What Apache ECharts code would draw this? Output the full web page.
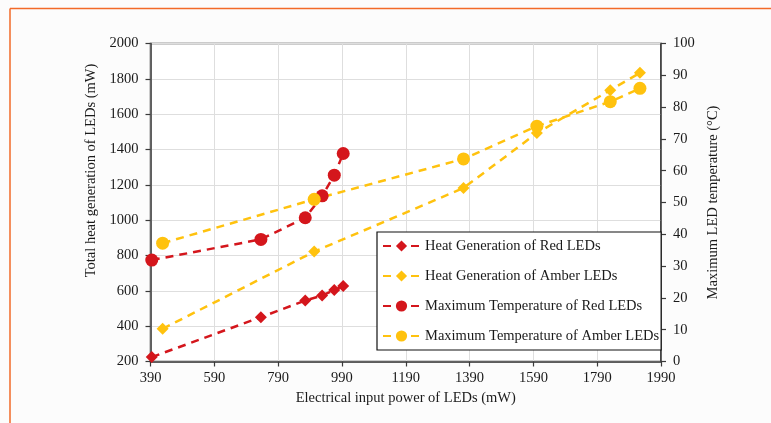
<!DOCTYPE html>
<html><head><meta charset="utf-8">
<script src="https://cdn.jsdelivr.net/npm/echarts@6/dist/echarts.min.js"></script>
<style>html,body{margin:0;padding:0;background:#fcfcfc}#c{width:771px;height:423px}</style>
</head><body><div id="c"></div>
<script>
const redPower = [394, 736, 875, 928, 966, 994];
const redHeat = [225, 451, 545, 573, 605, 628];
const redTemp = [31.9, 38.4, 45.2, 52.1, 58.6, 65.4];
const amberPower = [428, 903, 1371, 1601, 1831, 1924];
const amberHeat = [385, 822, 1182, 1493, 1736, 1834];
const amberTemp = [37.2, 51.0, 63.7, 74.0, 81.7, 85.9];
const seriesNames = ['Heat Generation of Red LEDs', 'Heat Generation of Amber LEDs',
  'Maximum Temperature of Red LEDs', 'Maximum Temperature of Amber LEDs'];
const xAxisName = 'Electrical input power of LEDs (mW)';
const yLeftName = 'Total heat generation of LEDs (mW)';
const yRightName = 'Maximum LED temperature (°C)';

const RED = '#d4161c', AMBER = '#ffc20e';
const FONT = "'Liberation Serif', 'Times New Roman', serif";
const TXT = '#1a1a1a';
const AX = '#3a3a3a';
const FS = 14.5;
const plain = v => String(v);

const pairs = (xs, ys) => xs.map((x, i) => [x, ys[i]]);
function mk(name, xs, ys, color, symbol, size, yIdx) {
  return {
    name, type: 'line', yAxisIndex: yIdx, data: pairs(xs, ys),
    symbol, symbolSize: size, showSymbol: true,
    lineStyle: { color, width: 2.5, type: [8, 6] },
    itemStyle: { color, borderWidth: 0 },
    emphasis: { disabled: true }, animation: false
  };
}

const chart = echarts.init(document.getElementById('c'), null, { renderer: 'canvas' });
chart.setOption({
  backgroundColor: '#fcfcfc',
  animation: false,
  textStyle: { fontFamily: FONT },
  grid: { left: 150.5, right: 110, top: 43.5, bottom: 61.5, show: true,
    backgroundColor: '#ffffff', borderColor: AX, borderWidth: 1.5 },
  legend: {
    orient: 'vertical', left: 377, top: 232,
    itemWidth: 37, itemHeight: 14, itemGap: 14,
    padding: [6, 2, 6, 5],
    backgroundColor: '#ffffff', borderColor: '#111', borderWidth: 1.2, borderRadius: 0,
    textStyle: { fontFamily: FONT, fontSize: FS, color: TXT, lineHeight: 16 },
    data: seriesNames
  },
  xAxis: {
    type: 'value', min: 390, max: 1990, interval: 200,
    name: xAxisName, nameLocation: 'middle', nameGap: 28,
    nameTextStyle: { fontFamily: FONT, fontSize: FS, color: TXT },
    axisLine: { show: true, lineStyle: { color: AX, width: 1.5 } },
    axisTick: { show: true, length: 5, lineStyle: { color: AX, width: 1.2 } },
    axisLabel: { margin: 9, fontFamily: FONT, fontSize: FS, color: TXT, formatter: plain },
    splitLine: { show: true, lineStyle: { color: '#dedede', width: 1 } }
  },
  yAxis: [{
    type: 'value', min: 200, max: 2000, interval: 200, position: 'left',
    name: yLeftName, nameLocation: 'middle', nameGap: 51, nameRotate: 90,
    nameTextStyle: { fontFamily: FONT, fontSize: FS, color: TXT, padding: [0, 0, 0, 64] },
    axisLine: { show: true, lineStyle: { color: AX, width: 1.5 } },
    axisTick: { show: true, length: 5, lineStyle: { color: AX, width: 1.2 } },
    axisLabel: { margin: 12, fontFamily: FONT, fontSize: FS, color: TXT, formatter: plain },
    splitLine: { show: true, lineStyle: { color: '#dedede', width: 1 } }
  }, {
    type: 'value', min: 0, max: 100, interval: 10, position: 'right',
    name: yRightName, nameLocation: 'middle', nameGap: 44, nameRotate: 90,
    nameTextStyle: { fontFamily: FONT, fontSize: FS, color: TXT },
    axisLine: { show: true, lineStyle: { color: AX, width: 1.5 } },
    axisTick: { show: true, length: 5, lineStyle: { color: AX, width: 1.2 } },
    axisLabel: { margin: 12, fontFamily: FONT, fontSize: FS, color: TXT, formatter: plain },
    splitLine: { show: false }
  }],
  graphic: [
    { type: 'line', shape: { x1: 10, y1: 8.5, x2: 771, y2: 8.5 }, style: { stroke: '#f26a28', lineWidth: 1.5 } },
    { type: 'line', shape: { x1: 10, y1: 8.5, x2: 10, y2: 423 }, style: { stroke: '#f26a28', lineWidth: 1.5 } }
  ],
  series: [
    mk(seriesNames[0], redPower, redHeat, RED, 'diamond', 12, 0),
    mk(seriesNames[1], amberPower, amberHeat, AMBER, 'diamond', 12, 0),
    mk(seriesNames[2], redPower, redTemp, RED, 'circle', 13, 1),
    mk(seriesNames[3], amberPower, amberTemp, AMBER, 'circle', 13, 1)
  ]
});
</script></body></html>
